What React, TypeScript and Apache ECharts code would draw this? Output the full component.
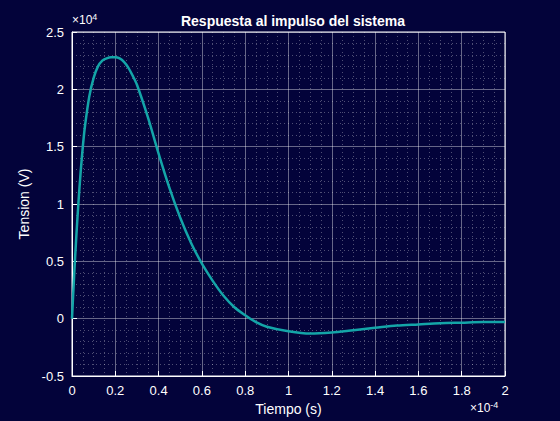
import React, { useEffect, useRef } from 'react';
import * as echarts from 'echarts';

// tiempo en unidades de 1e-4 s, tension en unidades de 1e4 V
const timeValues = [0, 0.01, 0.02, 0.03, 0.04, 0.05, 0.06, 0.08, 0.1, 0.12, 0.14, 0.16, 0.18, 0.2, 0.22, 0.24, 0.26, 0.28, 0.3, 0.35, 0.4, 0.45, 0.5, 0.55, 0.6, 0.65, 0.7, 0.75, 0.8, 0.85, 0.9, 1.0, 1.1, 1.2, 1.3, 1.4, 1.5, 1.6, 1.7, 1.8, 1.9, 2.0];
const voltageValues = [0, 0.38, 0.72, 1.02, 1.28, 1.5, 1.68, 1.94, 2.1, 2.2, 2.25, 2.27, 2.28, 2.28, 2.27, 2.24, 2.19, 2.12, 2.04, 1.76, 1.44, 1.14, 0.88, 0.66, 0.48, 0.33, 0.2, 0.1, 0.03, -0.03, -0.07, -0.11, -0.13, -0.12, -0.1, -0.08, -0.06, -0.05, -0.04, -0.035, -0.03, -0.03];

const BG = '#03033a';

export default function App() {
  const chartRef = useRef<HTMLDivElement>(null);

  useEffect(() => {
    if (!chartRef.current) return;
    const chart = echarts.init(chartRef.current, undefined, { renderer: 'svg' });
    const axisCommon = {
      axisLine: { show: true, onZero: false, lineStyle: { color: '#ffffff', width: 1 } },
      axisTick: { show: true, inside: true, length: 5, lineStyle: { color: '#ffffff' } },
      axisLabel: { color: '#ffffff', fontSize: 13, fontFamily: 'Liberation Sans' },
      splitLine: { show: true, lineStyle: { color: 'rgba(255,255,255,0.4)', width: 1 } },
      minorSplitLine: { show: true, lineStyle: { color: 'rgba(255,255,255,0.3)', type: [1, 3] } },
    };
    chart.setOption({
      animation: false,
      backgroundColor: BG,
      title: {
        text: 'Respuesta al impulso del sistema',
        left: 288,
        top: 9,
        textAlign: 'center',
        textStyle: { color: '#ffffff', fontSize: 14, fontWeight: 'bold', fontFamily: 'Liberation Sans' },
      },
      grid: { left: 72, right: 55, top: 32, bottom: 45, show: true, borderColor: '#ffffff', borderWidth: 1, backgroundColor: BG },
      xAxis: {
        type: 'value', min: 0, max: 2, interval: 0.2,
        name: 'Tiempo (s)', nameLocation: 'middle', nameGap: 25,
        nameTextStyle: { color: '#ffffff', fontSize: 14, fontFamily: 'Liberation Sans' },
        ...axisCommon,
        minorTick: { show: false, splitNumber: 4 },
        axisLabel: { ...axisCommon.axisLabel, margin: 8, formatter: (v: number) => String(Math.round(v * 10) / 10) },
      },
      yAxis: {
        type: 'value', min: -0.5, max: 2.5, interval: 0.5,
        name: 'Tension (V)', nameLocation: 'middle', nameGap: 38,
        nameTextStyle: { color: '#ffffff', fontSize: 14, fontFamily: 'Liberation Sans' },
        ...axisCommon,
        minorTick: { show: false, splitNumber: 5 },
        axisLabel: { ...axisCommon.axisLabel, formatter: (v: number) => String(v) },
      },
      graphic: [
        {
          type: 'text', left: 72, top: 12,
          style: {
            text: '×10{s|4}', fill: '#ffffff', fontSize: 12, fontFamily: 'Liberation Sans',
            rich: { s: { fontSize: 9, fill: '#ffffff', padding: [0, 0, 6, 0] } },
          },
        },
        {
          type: 'text', left: 470, top: 400,
          style: {
            text: '×10{s|-4}', fill: '#ffffff', fontSize: 12, fontFamily: 'Liberation Sans',
            rich: { s: { fontSize: 9, fill: '#ffffff', padding: [0, 0, 6, 0] } },
          },
        },
      ],
      series: [
        {
          type: 'line',
          data: timeValues.map((t, i) => [t, voltageValues[i]]),
          smooth: 0.3,
          showSymbol: false,
          lineStyle: { color: '#14a5a8', width: 2.5 },
        },
      ],
    });
    return () => chart.dispose();
  }, []);

  return <div ref={chartRef} style={{ width: 560, height: 421, position: 'absolute', left: 0, top: 0 }} />;
}
